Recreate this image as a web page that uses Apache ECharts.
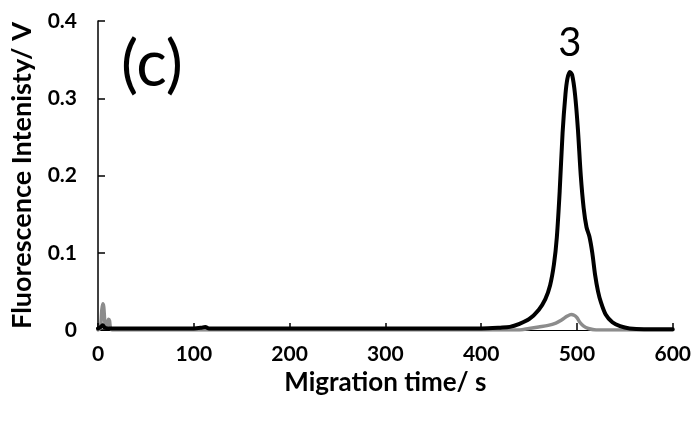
<!DOCTYPE html>
<html>
<head>
<meta charset="utf-8">
<script src="https://cdn.jsdelivr.net/npm/echarts@6/dist/echarts.min.js"></script>
<style>
  html, body { margin: 0; padding: 0; background: #fff; }
  #chart { width: 694px; height: 422px; }
</style>
</head>
<body>
<div id="chart"></div>
<script>
// Electropherogram: fluorescence signal vs migration time
const sampleTime = [0, 3, 5, 7, 10, 20, 100, 108, 112, 116, 200, 300, 400, 420, 430, 440, 450, 460, 467, 472, 476, 479, 482, 485, 488, 490, 492.5, 495, 498, 501, 504, 507, 510, 513, 516, 519, 522, 525, 530, 537, 545, 555, 570, 600];
const sampleSignal = [0.002, 0.004, 0.006, 0.003, 0.002, 0.002, 0.002, 0.003, 0.004, 0.002, 0.002, 0.002, 0.002, 0.003, 0.004, 0.008, 0.014, 0.026, 0.040, 0.058, 0.085, 0.120, 0.180, 0.255, 0.305, 0.325, 0.334, 0.330, 0.305, 0.260, 0.200, 0.158, 0.133, 0.121, 0.100, 0.071, 0.050, 0.036, 0.020, 0.010, 0.005, 0.002, 0.001, 0.001];

const blankTime = [0, 2, 3, 4, 5, 6, 7, 8, 10, 11, 12, 13, 15, 100, 200, 300, 400, 440, 450, 460, 470, 478, 484, 490, 494, 497, 500, 503, 507, 512, 520, 600];
const blankSignal = [0, 0.002, 0.008, 0.026, 0.034, 0.030, 0.012, 0.004, 0.008, 0.014, 0.012, 0.003, 0, 0, 0, 0, 0, 0, 0.002, 0.004, 0.006, 0.009, 0.013, 0.018, 0.020, 0.019, 0.016, 0.010, 0.005, 0.002, 0, 0];

const xTicks = [0, 100, 200, 300, 400, 500, 600];
const yTicks = [0, 0.1, 0.2, 0.3, 0.4];
const peakLabel = '3';
const panelLabel = '(c)';

const zip = (xs, ys) => xs.map((x, i) => [x, ys[i]]);
const font = 'Lato, "Open Sans", sans-serif';

const chart = echarts.init(document.getElementById('chart'));
const peakIdx = sampleSignal.indexOf(Math.max(...sampleSignal));

chart.setOption({
  animation: false,
  grid: { left: 98, right: 21, top: 21, bottom: 92 },
  xAxis: {
    type: 'value',
    min: xTicks[0], max: xTicks[xTicks.length - 1], interval: 100,
    name: 'Migration time/ s', nameLocation: 'middle', nameGap: 40,
    nameTextStyle: { fontFamily: font, fontWeight: 'bold', fontSize: 26, color: '#000' },
    axisLine: { lineStyle: { color: '#000', width: 1 } },
    axisTick: { inside: true, length: 7, lineStyle: { color: '#000', width: 1.5 } },
    axisLabel: { fontFamily: font, fontWeight: 'bold', fontSize: 21, color: '#000', margin: 14,
      formatter: v => String(v) },
    splitLine: { show: false }
  },
  yAxis: {
    type: 'value',
    min: yTicks[0], max: yTicks[yTicks.length - 1], interval: 0.1,
    name: 'Fluorescence Intenisty/ V', nameLocation: 'middle', nameGap: 62,
    nameTextStyle: { fontFamily: font, fontWeight: 'bold', fontSize: 27, color: '#000' },
    axisLine: { show: true, lineStyle: { color: '#000', width: 1.5 } },
    axisTick: { show: true, inside: true, length: 7, lineStyle: { color: '#000', width: 1.5 } },
    axisLabel: { fontFamily: font, fontWeight: 'bold', fontSize: 21, color: '#000', margin: 21,
      formatter: v => (v === 0 ? '0' : v.toFixed(1)) },
    splitLine: { show: false }
  },
  series: [
    {
      type: 'line', data: zip(blankTime, blankSignal), showSymbol: false, smooth: 0.3,
      lineStyle: { color: '#8c8c8c', width: 3.5, cap: 'round', join: 'round' }, z: 2
    },
    {
      type: 'line', data: zip(sampleTime, sampleSignal), showSymbol: false, smooth: 0.3,
      lineStyle: { color: '#000', width: 4, cap: 'round', join: 'round' }, z: 3,
      markPoint: {
        symbol: 'circle', symbolSize: 0,
        data: [{ coord: [sampleTime[peakIdx], sampleSignal[peakIdx]] }],
        label: { show: true, formatter: peakLabel, position: 'top', distance: 9,
          fontFamily: font, fontSize: 40, color: '#000' }
      }
    }
  ],
  graphic: [{
    type: 'text', left: 121, top: 33,
    style: { text: panelLabel, fontFamily: font, fontSize: 64, fill: '#000' }
  }]
});
</script>
</body>
</html>
